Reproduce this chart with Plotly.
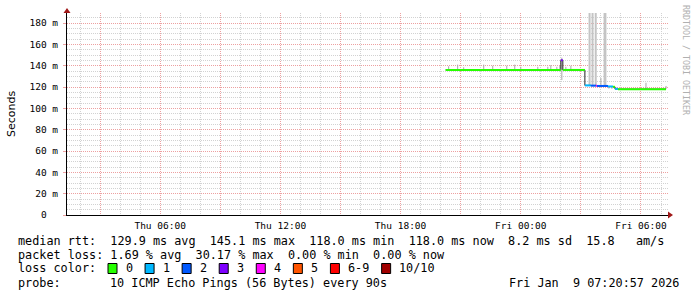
import plotly.graph_objects as go
from datetime import datetime, timedelta

# ---------------- data ----------------
x_start = "2026-01-08 01:20:57"
x_end = "2026-01-09 07:20:57"
y_top = 189.4

# median rtt: interval boundaries, median (ms) and lost pings (of 10) for each interval
med_time = ["2026-01-08 20:15", "2026-01-09 02:00", "2026-01-09 02:06", "2026-01-09 03:12",
            "2026-01-09 03:30", "2026-01-09 03:45", "2026-01-09 03:48", "2026-01-09 04:21",
            "2026-01-09 04:36", "2026-01-09 04:42", "2026-01-09 04:51", "2026-01-09 07:15"]
med_value = [136.0, 145.1, 136.0, 121.5, 121.3, 121.1, 121.0, 120.5, 120.2, 118.3, 118.0]
med_loss = [0, 3, 0, 1, 2, 4, 2, 1, 0, 1, 0]

# tall smoke columns (ping spread going off the top of the chart)
smoke_time = ["2026-01-09 03:26:00", "2026-01-09 03:35:00", "2026-01-09 03:44:30",
              "2026-01-09 04:11:00", "2026-01-09 04:13:30"]
smoke_low = [121.5, 121.3, 121.1, 121.0, 121.0]
smoke_high = [200.0, 200.0, 200.0, 200.0, 200.0]

# short smoke ticks
tick_time = ["2026-01-08 20:24", "2026-01-08 20:51", "2026-01-08 21:09", "2026-01-08 22:09",
             "2026-01-08 22:36", "2026-01-08 23:18", "2026-01-08 23:42", "2026-01-09 00:00",
             "2026-01-09 00:51", "2026-01-09 01:21", "2026-01-09 01:30", "2026-01-09 01:48",
             "2026-01-09 01:57", "2026-01-09 02:03", "2026-01-09 02:15", "2026-01-09 02:30",
             "2026-01-09 04:00", "2026-01-09 04:24", "2026-01-09 04:33", "2026-01-09 04:45",
             "2026-01-09 06:15", "2026-01-09 07:15"]
tick_low = [136.0, 136.0, 136.0, 136.0, 136.0, 136.0, 136.0, 136.0, 136.0, 136.0, 136.0,
            136.0, 136.0, 126.5, 136.0, 136.0, 121.0, 118.5, 118.3, 117.5, 118.0, 118.0]
tick_high = [139.5, 141.0, 138.5, 141.0, 140.0, 140.0, 141.0, 139.0, 139.0, 139.0, 140.5,
             139.0, 140.0, 147.5, 139.0, 140.0, 128.5, 121.0, 120.5, 119.5, 124.0, 121.0]

loss_labels = ["0", "1", "2", "3", "4", "5", "6-9", "10/10"]
loss_colors = ["#26ff00", "#00b8ff", "#0059ff", "#7e00ff", "#ff00ff", "#ff5500", "#ff0000", "#a10000"]

x_tickvals = ["2026-01-08 03:00", "2026-01-08 06:00", "2026-01-08 09:00", "2026-01-08 12:00",
              "2026-01-08 15:00", "2026-01-08 18:00", "2026-01-08 21:00", "2026-01-09 00:00",
              "2026-01-09 03:00", "2026-01-09 06:00"]
x_ticktext = ["", "Thu 06:00", "", "Thu 12:00", "", "Thu 18:00", "", "Fri 00:00", "", "Fri 06:00"]
y_tickvals = [0, 20, 40, 60, 80, 100, 120, 140, 160, 180]
y_ticktext = ["0\u00a0\u00a0", "20 m", "40 m", "60 m", "80 m", "100 m", "120 m", "140 m", "160 m", "180 m"]

rtt_stats = [129.9, 145.1, 118.0, 118.0, 8.2, 15.8]     # avg, max, min, now, sd, am/s
loss_stats = [1.69, 30.17, 0.00, 0.00]                  # avg, max, min, now
probe_text = "10 ICMP Echo Pings (56 Bytes) every 90s"
stamp_text = "Fri Jan  9 07:20:57 2026"

# ---------------- layout helpers ----------------
W, H = 697, 297
PL, PR, PT, PB = 67, 668, 13, 215


def px(x):
    return (x - PL) / (PR - PL)


def py(y):
    return (PB - y) / (PB - PT)


def nb(s):
    return s.replace(" ", "\u00a0")


def loss_class(n):
    if n <= 5:
        return n
    if n < 10:
        return 6
    return 7


def vsegs(ts, lows, highs):
    xs, ys = [], []
    for t, lo, hi in zip(ts, lows, highs):
        xs += [t, t, None]
        ys += [lo, hi, None]
    return xs, ys


# minor grid positions that do not coincide with major ones
t0 = datetime(2026, 1, 8, 1, 0)
x_minor = []
for h in range(32):
    t = t0 + timedelta(hours=h)
    if t.hour % 3 != 0:
        x_minor.append(t.strftime("%Y-%m-%d %H:%M"))
y_minor = [v for v in range(0, 190, 5) if v % 20 != 0]

MONO = "DejaVu Sans Mono"
fig = go.Figure()

# smoke
sx, sy = vsegs(smoke_time, smoke_low, smoke_high)
fig.add_trace(go.Scatter(x=sx, y=sy, mode="lines", line=dict(color="#c4c4c4", width=2),
                         hoverinfo="skip"))
tx, ty = vsegs(tick_time, tick_low, tick_high)
fig.add_trace(go.Scatter(x=tx, y=ty, mode="lines", line=dict(color="#a8a8a8", width=1),
                         hoverinfo="skip"))

# dark median step line
fig.add_trace(go.Scatter(x=med_time, y=med_value + [med_value[-1]], mode="lines",
                         line=dict(color="#202020", width=1, shape="hv"), hoverinfo="skip"))

# colored segments by loss
for ci, col in enumerate(loss_colors):
    xs, ys = [], []
    for i, v in enumerate(med_value):
        if loss_class(med_loss[i]) == ci:
            xs += [med_time[i], med_time[i + 1], None]
            ys += [v, v, None]
    if xs:
        fig.add_trace(go.Scatter(x=xs, y=ys, mode="lines", line=dict(color=col, width=2),
                                 hoverinfo="skip"))

major = "#eda0a0"
minor = "#d2d2d2"

fig.update_layout(
    width=W, height=H, margin=dict(l=PL, r=W - PR, t=PT, b=H - PB),
    paper_bgcolor="white", plot_bgcolor="white", showlegend=False,
    xaxis=dict(type="date", range=[x_start, x_end], tickmode="array", tickvals=x_tickvals,
               ticktext=x_ticktext, showgrid=True, gridcolor=major, griddash="1px,1px",
               gridwidth=1, showline=True, linecolor="black", linewidth=1, zeroline=False,
               ticks="", tickfont=dict(family=MONO, size=9.5, color="#000"),
               ticklabelstandoff=2,
               minor=dict(tickmode="array", tickvals=x_minor,
                          showgrid=True, gridcolor=minor, griddash="1px,1px", gridwidth=1,
                          ticks="")),
    yaxis=dict(range=[0, y_top], tickmode="array", tickvals=y_tickvals, ticktext=y_ticktext,
               showgrid=True, gridcolor=major, griddash="1px,1px", gridwidth=1,
               showline=True, linecolor="black", linewidth=1, zeroline=False,
               ticks="outside", ticklen=3, tickcolor=major,
               tickfont=dict(family=MONO, size=9.5, color="#000"), ticklabelstandoff=3,
               minor=dict(tickmode="array", tickvals=y_minor, showgrid=True, gridcolor=minor,
                          griddash="1px,1px", gridwidth=1, ticks="")),
)

shapes = []
# axis arrow heads
shapes.append(dict(type="path", xref="paper", yref="paper",
                   path=f"M {px(668)} {py(211.5)} L {px(673)} {py(215)} L {px(668)} {py(218.5)} Z",
                   fillcolor="#a01818", line=dict(width=0)))
shapes.append(dict(type="path", xref="paper", yref="paper",
                   path=f"M {px(63.5)} {py(13)} L {px(67)} {py(8)} L {px(70.5)} {py(13)} Z",
                   fillcolor="#a01818", line=dict(width=0)))

ann = []
row1 = (f"median rtt:  {rtt_stats[0]:.1f} ms avg  {rtt_stats[1]:.1f} ms max  "
        f"{rtt_stats[2]:.1f} ms min  {rtt_stats[3]:.1f} ms now  {rtt_stats[4]:.1f} ms sd  "
        f"{rtt_stats[5]:.1f}   am/s")
row2 = (f"packet loss: {loss_stats[0]:.2f} % avg  {loss_stats[1]:.2f} % max  "
        f"{loss_stats[2]:.2f} % min  {loss_stats[3]:.2f} % now")
LF = dict(family=MONO, size=11.8, color="#000")
for text, y in [(row1, 241), (row2, 255), ("loss color:", 268), ("probe:", 283)]:
    ann.append(dict(text=nb(text), x=px(16), y=py(y), xref="paper", yref="paper",
                    xanchor="left", yanchor="middle", showarrow=False, font=LF))
ann.append(dict(text=nb(probe_text), x=px(108), y=py(283), xref="paper", yref="paper",
                xanchor="left", yanchor="middle", showarrow=False, font=LF))
ann.append(dict(text=nb(stamp_text), x=px(681), y=py(283), xref="paper", yref="paper",
                xanchor="right", yanchor="middle", showarrow=False, font=LF))

bx = 108.0
for lab, col in zip(loss_labels, loss_colors):
    shapes.append(dict(type="rect", xref="paper", yref="paper",
                       x0=px(bx), x1=px(bx + 9), y0=py(273.5), y1=py(263.5),
                       fillcolor=col, line=dict(color="#000", width=1)))
    ann.append(dict(text=nb(lab), x=px(bx + 15.5), y=py(268), xref="paper", yref="paper",
                    xanchor="left", yanchor="middle", showarrow=False, font=LF))
    bx = bx + 15.5 + 7.07 * len(lab) + 14.5

ann.append(dict(text="Seconds", x=px(11), y=py(114), xref="paper", yref="paper",
                xanchor="center", yanchor="middle", textangle=-90, showarrow=False,
                font=dict(family="DejaVu Sans", size=11, color="#000")))
ann.append(dict(text=nb("RRDTOOL / TOBI OETIKER"), x=px(686), y=py(60), xref="paper",
                yref="paper", xanchor="center", yanchor="middle", textangle=90,
                showarrow=False, font=dict(family=MONO, size=8.3, color="#b0b0b0")))

fig.update_layout(shapes=shapes, annotations=ann)
fig.write_html("out.html")
